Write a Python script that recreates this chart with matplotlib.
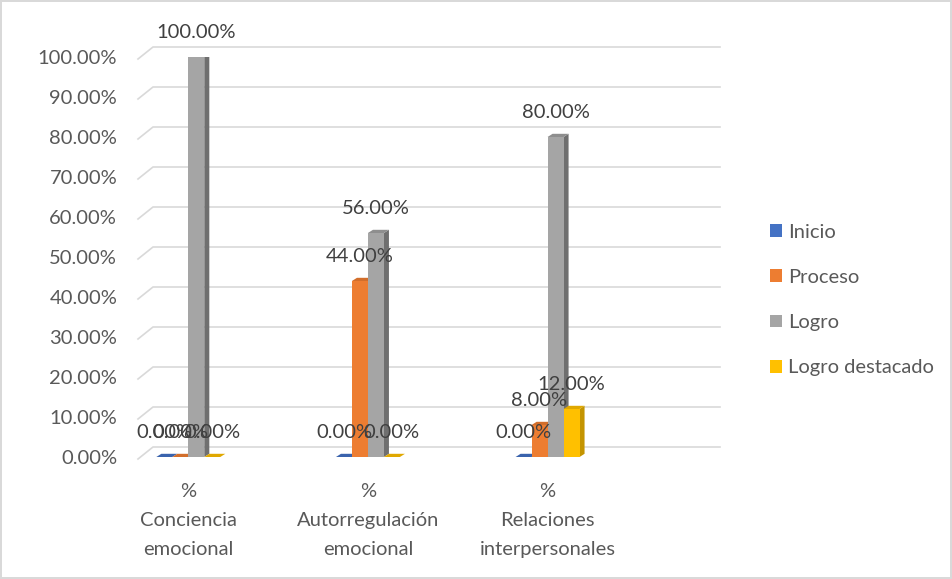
import matplotlib.pyplot as plt
import matplotlib.transforms as mtransforms
from matplotlib.patches import Polygon, Patch

plt.rcParams['font.family'] = ['Lato', 'DejaVu Sans']

categories = ['%\nConciencia\nemocional', '%\nAutorregulación\nemocional', '%\nRelaciones\ninterpersonales']
series = ['Inicio', 'Proceso', 'Logro', 'Logro destacado']
inicio = [0.0, 0.0, 0.0]
proceso = [0.0, 44.0, 8.0]
logro = [100.0, 56.0, 80.0]
destacado = [0.0, 0.0, 12.0]
yticks = [0, 10, 20, 30, 40, 50, 60, 70, 80, 90, 100]

front = ['#4472C4', '#ED7D31', '#A5A5A5', '#FFC000']
side = ['#2F5597', '#B85F24', '#6F6F6F', '#C49400']
top = ['#3A63AD', '#D26E2B', '#8E8E8E', '#E0A800']

FS = 14.5
W, H = 952, 579
fig = plt.figure(figsize=(W / 100, H / 100), dpi=100)
fig.patch.set_edgecolor('#D9D9D9')
fig.patch.set_linewidth(1.5)

ax = fig.add_axes([138 / W, 1 - 457 / H, (720 - 138) / W, 400 / H])
ax.set_ylim(0, 100)
ax.set_xlim(-0.28, 2.96)
for s in ax.spines.values():
    s.set_visible(False)

# back-wall gridlines with the slanted floor/left-wall part
trans = mtransforms.blended_transform_factory(ax.transAxes, ax.transData)
dxf = 15 / (720 - 138)
for v in yticks:
    ax.plot([0, dxf, 1], [v - 0.5, v + 2.5, v + 2.5], transform=trans,
            color='#D9D9D9', lw=1.2, clip_on=False, zorder=0)

ax.set_yticks(yticks)
ax.set_yticklabels([f'{v:.2f}%' for v in yticks], fontsize=FS, color='#595959')
ax.tick_params(axis='y', length=0, pad=15)
ax.set_xticks(range(len(categories)))
ax.set_xticklabels(categories, fontsize=FS, color='#595959', linespacing=1.85)
ax.tick_params(axis='x', length=0, pad=19)

w = 0.089
ddx, ddy = 0.028, 0.8
data = [inicio, proceso, logro, destacado]
for ci in range(len(categories)):
    for si, vals in enumerate(data):
        v = vals[ci]
        x = ci + (si - 1.5) * w
        xl, xr = x - w / 2, x + w / 2
        ax.add_patch(Polygon([(xr, 0), (xr + ddx, ddy), (xr + ddx, v + ddy), (xr, v)],
                             closed=True, facecolor=side[si], edgecolor='none'))
        ax.add_patch(Polygon([(xl, v), (xl + ddx, v + ddy), (xr + ddx, v + ddy), (xr, v)],
                             closed=True, facecolor=top[si], edgecolor='none'))
        ax.bar(x, v, width=w, color=front[si], edgecolor='none')
        ax.annotate(f'{v:.2f}%', xy=(x, v), xytext=(0, 25), textcoords='offset pixels',
                    ha='center', va='center', fontsize=FS, color='#404040')

handles = [Patch(facecolor=c, edgecolor='none', label=l) for c, l in zip(front, series)]
fig.legend(handles=handles, loc='center left', bbox_to_anchor=(752 / W, 1 - 300 / H),
           frameon=False, fontsize=FS, handlelength=0.6, handleheight=0.6,
           handletextpad=0.3, labelspacing=1.4, labelcolor='#595959')

fig.savefig('out.png', dpi=100)
